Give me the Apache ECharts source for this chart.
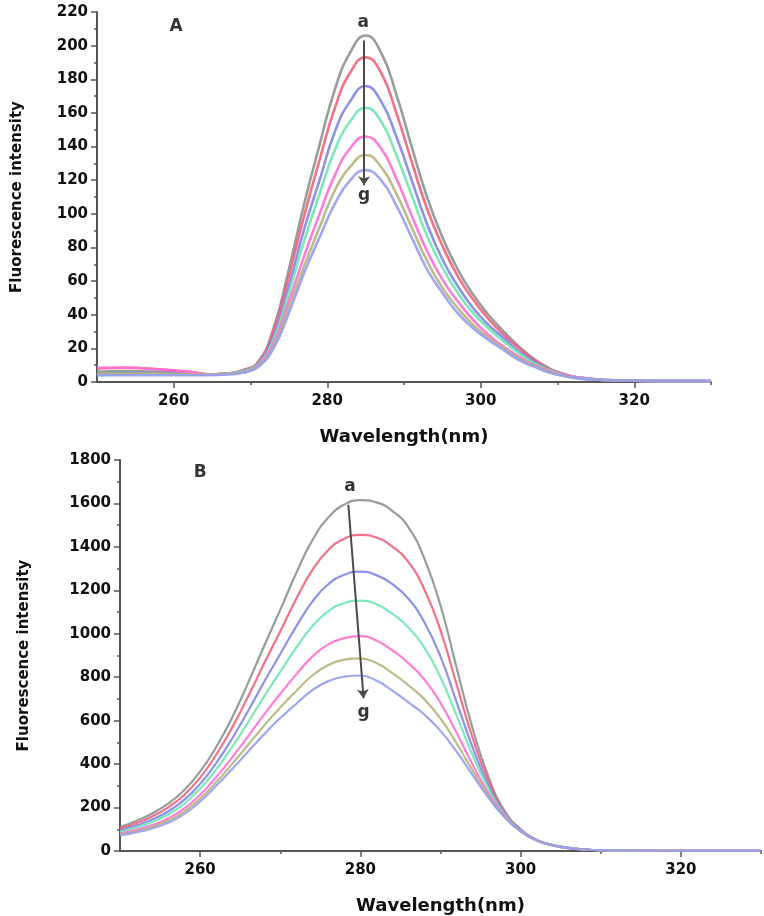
<!DOCTYPE html>
<html>
<head>
<meta charset="utf-8">
<script src="https://cdn.jsdelivr.net/npm/echarts@6/dist/echarts.min.js"></script>
<style>
  html, body { margin: 0; padding: 0; background: #fff; }
  #chart { width: 764px; height: 916px; }
</style>
</head>
<body>
<div id="chart"></div>
<script>
// panel A: wavelength (nm) and the seven spectra a..g
const wavelengthA = [250, 254, 258, 262, 265, 267, 269, 271, 273, 275, 277, 279, 281, 283, 285, 287, 289, 291, 293, 295, 297, 299, 301, 303, 305, 307, 309, 311, 313, 316, 320, 325, 330]
const panelA_a = [6, 6.5, 6, 5, 4.5, 5, 7, 12, 32, 67, 106, 141, 174, 196, 206, 196, 171, 140, 110, 86, 67, 52, 40, 30, 21, 13.5, 8, 4.5, 2.5, 1.2, 0.8, 0.5, 0.5]
const panelA_b = [8, 8.5, 7.5, 6, 4.5, 5, 7, 11.5, 30, 63, 99, 132, 163, 184, 193, 184, 160, 131, 103, 81, 63, 49, 37.5, 28, 20, 13, 7.5, 4.5, 2.5, 1.2, 0.8, 0.5, 0.5]
const panelA_c = [5, 5.5, 5.5, 5, 4.5, 5, 6.5, 11, 27, 57, 91, 120, 149, 167, 176, 167, 146, 120, 94, 73, 57, 44, 34, 26, 18, 12, 7, 4, 2.5, 1.2, 0.8, 0.5, 0.5]
const panelA_d = [4, 4.5, 4.5, 4.5, 4.5, 5, 6.5, 10.5, 25, 53, 84, 112, 138, 155, 163, 155, 135, 111, 87, 68, 53, 41, 32, 24, 17, 11, 7, 4, 2.5, 1.2, 0.8, 0.5, 0.5]
const panelA_e = [8.5, 8.5, 7.5, 6, 4.5, 5, 6, 10, 23, 48, 75, 100, 123, 139, 146, 139, 121, 99, 78, 61, 48, 37, 28, 21, 15, 10, 6.5, 4, 2.5, 1.2, 0.8, 0.5, 0.5]
const panelA_f = [5, 5, 5, 4.5, 4.5, 5, 6, 9.5, 21, 44, 69, 92, 114, 128, 135, 128, 112, 92, 72, 56, 44, 34, 26, 20, 14, 9.5, 6, 3.5, 2, 1.2, 0.8, 0.5, 0.5]
const panelA_g = [4, 4, 4, 4, 4, 4.5, 5.5, 9, 20, 41, 65, 86, 106, 120, 126, 120, 105, 86, 67, 53, 41, 32, 25, 19, 13, 9, 5.5, 3.5, 2, 1.2, 0.8, 0.5, 0.5]

// panel B
const wavelengthB = [250, 252, 254, 256, 258, 260, 262, 264, 266, 268, 270, 272, 274, 276, 278, 280, 282, 284, 286, 288, 290, 292, 294, 296, 298, 300, 302, 304, 306, 308, 310, 315, 320, 330]
const panelB_a = [110, 138, 173, 218, 280, 365, 478, 615, 775, 945, 1110, 1280, 1430, 1535, 1595, 1615, 1605, 1565, 1490, 1345, 1130, 845, 565, 340, 185, 100, 52, 27, 14, 7, 4, 2, 1, 1]
const panelB_b = [102, 128, 159, 201, 258, 338, 443, 568, 712, 864, 1011, 1161, 1293, 1386, 1438, 1455, 1443, 1401, 1330, 1203, 1016, 768, 522, 321, 179, 98, 51, 27, 14, 7, 4, 2, 1, 1]
const panelB_c = [94, 117, 145, 182, 235, 309, 405, 518, 646, 779, 907, 1034, 1148, 1228, 1272, 1286, 1270, 1228, 1161, 1052, 895, 687, 477, 301, 173, 96, 50, 27, 14, 7, 4, 2, 1, 1]
const panelB_d = [88, 108, 134, 168, 217, 287, 376, 479, 594, 712, 825, 936, 1035, 1104, 1142, 1153, 1136, 1092, 1029, 935, 800, 624, 442, 286, 168, 94, 50, 27, 14, 7, 4, 2, 1, 1]
const panelB_e = [80, 98, 119, 150, 195, 259, 340, 431, 529, 629, 724, 813, 895, 951, 980, 989, 969, 923, 865, 789, 682, 545, 398, 266, 162, 92, 49, 26, 13, 7, 4, 2, 1, 1]
const panelB_f = [76, 91, 111, 139, 181, 241, 317, 401, 489, 578, 661, 737, 808, 856, 881, 887, 865, 819, 763, 698, 610, 496, 371, 254, 158, 91, 48, 26, 13, 7, 4, 2, 1, 1]
const panelB_g = [72, 86, 104, 130, 170, 228, 300, 378, 458, 538, 612, 678, 740, 782, 803, 808, 785, 738, 684, 628, 553, 458, 350, 245, 155, 90, 48, 26, 13, 7, 4, 2, 1, 1]

const curveNames = ['a', 'b', 'c', 'd', 'e', 'f', 'g']
const curveColors = ['#8a9390', '#f2607c', '#8285e6', '#6fe6b2', '#ff6fd2', '#b6b47a', '#959ff0']
const majorTicks = [260, 280, 300, 320]
const minorTicks = [270, 290, 310, 330]

const font = 'DejaVu Sans'
const axisColor = '#555'

const chart = echarts.init(document.getElementById('chart'))

const xAxisMain = (gridIndex, nameGap) => ({
  type: 'value',
  gridIndex,
  position: 'bottom',
  min: 250,
  max: 330,
  name: 'Wavelength(nm)',
  nameLocation: 'middle',
  nameGap,
  nameTextStyle: { fontFamily: font, fontWeight: 'bold', fontSize: 18, color: '#111' },
  axisLine: { lineStyle: { color: axisColor, width: 2 } },
  axisTick: { customValues: majorTicks, length: 6, lineStyle: { color: axisColor, width: 1.5 } },
  axisLabel: { customValues: majorTicks, margin: 12, fontFamily: font, fontWeight: 'bold', fontSize: 15, color: '#111' },
  splitLine: { show: false }
})

const xAxisMinor = (gridIndex) => ({
  type: 'value',
  gridIndex,
  position: 'bottom',
  min: 250,
  max: 330,
  axisLine: { show: false },
  axisTick: { customValues: minorTicks, length: 3, lineStyle: { color: axisColor, width: 1.5 } },
  axisLabel: { show: false },
  splitLine: { show: false }
})

const yAxis = (gridIndex, max, interval, nameGap) => ({
  type: 'value',
  gridIndex,
  min: 0,
  max,
  interval,
  name: 'Fluorescence intensity',
  nameLocation: 'middle',
  nameGap,
  nameTextStyle: { fontFamily: font, fontWeight: 'bold', fontSize: 15, color: '#111' },
  axisLine: { show: true, lineStyle: { color: axisColor, width: 2 } },
  axisTick: { show: true, length: 6, lineStyle: { color: axisColor, width: 1.5 } },
  minorTick: { show: true, splitNumber: 2, length: 3, lineStyle: { color: axisColor, width: 1.5 } },
  axisLabel: { margin: 9, formatter: v => String(v), fontFamily: font, fontWeight: 'bold', fontSize: 15, color: '#111' },
  splitLine: { show: false }
})

const spectra = (xIdx, yIdx, wavelengths, curves, width) =>
  curves.map((values, i) => ({
    name: curveNames[i],
    type: 'line',
    xAxisIndex: xIdx,
    yAxisIndex: yIdx,
    smooth: 0.5,
    showSymbol: false,
    data: wavelengths.map((w, k) => [w, values[k]]),
    lineStyle: { color: curveColors[i], width, opacity: 0.9 },
    itemStyle: { color: curveColors[i] }
  }))

const textLabel = { show: true, position: 'inside', formatter: '{b}', fontFamily: font, fontWeight: 'bold', fontSize: 17, color: '#000' }

const annotations = (xIdx, yIdx, points, arrow) => ({
  type: 'scatter',
  xAxisIndex: xIdx,
  yAxisIndex: yIdx,
  symbolSize: 0,
  silent: true,
  z: 5,
  label: textLabel,
  data: points.map(p => ({ name: p[2], value: [p[0], p[1]] })),
  markLine: {
    silent: true,
    symbol: ['none', 'arrow'],
    symbolSize: 9,
    label: { show: false },
    lineStyle: { color: '#4a4a4a', width: 2, type: 'solid' },
    data: [[{ coord: arrow[0] }, { coord: arrow[1] }]]
  }
})

chart.setOption({
  backgroundColor: '#fff',
  animation: false,
  grid: [
    { left: 97, top: 12, width: 614, height: 370 },
    { left: 120, top: 460, width: 641, height: 394 }
  ],
  xAxis: [xAxisMain(0, 46), xAxisMinor(0), xAxisMain(1, 46), xAxisMinor(1)],
  yAxis: [yAxis(0, 220, 20, 72), yAxis(1, 1800, 200, 88)],
  series: [
    ...spectra(0, 0, wavelengthA, [panelA_a, panelA_b, panelA_c, panelA_d, panelA_e, panelA_f, panelA_g], 2.6),
    ...spectra(2, 1, wavelengthB, [panelB_a, panelB_b, panelB_c, panelB_d, panelB_e, panelB_f, panelB_g], 2.2),
    annotations(0, 0, [[260.3, 211.5, 'A'], [284.7, 213.5, 'a'], [284.8, 111, 'g']], [[284.8, 203], [284.8, 117]]),
    annotations(2, 1, [[260, 1740, 'B'], [278.7, 1676, 'a'], [280.4, 635, 'g']], [[278.5, 1594], [280.4, 703]])
  ]
})
</script>
</body>
</html>
